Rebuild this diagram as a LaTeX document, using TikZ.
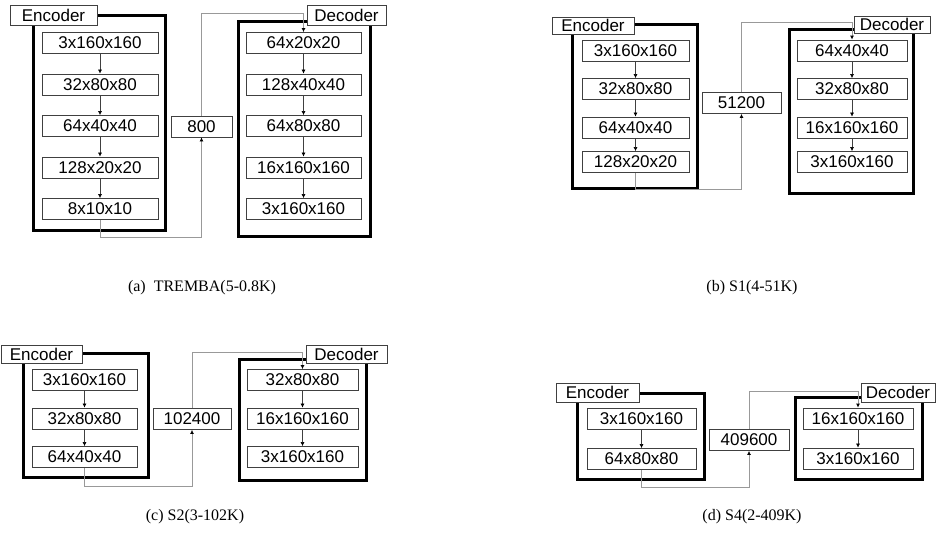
\documentclass[tikz,border=0pt]{standalone}
\usepackage{fontspec}
\setmainfont{Liberation Serif}
\newfontfamily\boxfont{Liberation Sans}
\usepackage{tikz}
\usetikzlibrary{arrows.meta}
\definecolor{boxline}{gray}{0.25}
\definecolor{linkline}{gray}{0.6}

\begin{document}
\begin{tikzpicture}[x=1pt, y=-1pt,
    thickframe/.style={black, line width=3pt},
    shapebox/.style={draw=boxline, line width=0.8pt, fill=white, inner sep=0pt,
        minimum height=21pt, font=\boxfont\fontsize{17}{17}\selectfont},
    tagbox/.style={shapebox, minimum height=19pt},
    flow/.style={boxline, line width=0.6pt, -{Latex[length=4pt, width=4pt, black]}},
    link/.style={linkline, line width=0.8pt, -{Latex[length=4pt, width=4pt, black]}},
    subcap/.style={font=\fontsize{16}{16}\selectfont}]
    \useasboundingbox (0,0) rectangle (936,542);

    % (a) TREMBA: 5 encoder / 5 decoder layers
    \draw[thickframe] (33,15) rectangle (165,230);
    \draw[thickframe] (238,21) rectangle (370,236);
    \node[shapebox, minimum width=116pt] (ae1) at (100,43) {3x160x160};
    \node[shapebox, minimum width=116pt] (ae2) at (100,84.5) {32x80x80};
    \node[shapebox, minimum width=116pt] (ae3) at (100,126) {64x40x40};
    \node[shapebox, minimum width=116pt] (ae4) at (100,167.5) {128x20x20};
    \node[shapebox, minimum width=116pt] (ae5) at (100,209) {8x10x10};
    \node[shapebox, minimum width=61pt] (az) at (201.5,126.5) {800};
    \node[shapebox, minimum width=115pt] (ad1) at (303.5,43) {64x20x20};
    \node[shapebox, minimum width=115pt] (ad2) at (303.5,84.5) {128x40x40};
    \node[shapebox, minimum width=115pt] (ad3) at (303.5,126) {64x80x80};
    \node[shapebox, minimum width=115pt] (ad4) at (303.5,167.5) {16x160x160};
    \node[shapebox, minimum width=115pt] (ad5) at (303.5,209) {3x160x160};
    \draw[flow] (ae1) -- (ae2);
    \draw[flow] (ae2) -- (ae3);
    \draw[flow] (ae3) -- (ae4);
    \draw[flow] (ae4) -- (ae5);
    \draw[flow] (ad1) -- (ad2);
    \draw[flow] (ad2) -- (ad3);
    \draw[flow] (ad3) -- (ad4);
    \draw[flow] (ad4) -- (ad5);
    \draw[link] (ae5.south) -- ++(0,17.5) -| (az.south);
    \draw[link] (az.north) -- ++(0,-102) -| (ad1.north);
    \node[tagbox, minimum width=87pt, minimum height=20pt] (aenc) at (53.5,15) {Encoder};
    \node[tagbox, minimum width=79pt, minimum height=20pt] (adec) at (346.5,15) {Decoder};
    \node[subcap] (acap) at (202,288) {(a)\ \ TREMBA(5-0.8K)};

    % (b) S1: 4 layers
    \draw[thickframe] (572,24) rectangle (697,188);
    \draw[thickframe] (789,29) rectangle (913,193);
    \node[shapebox, minimum width=107pt] (be1) at (635.5,50.5) {3x160x160};
    \node[shapebox, minimum width=107pt] (be2) at (635.5,89) {32x80x80};
    \node[shapebox, minimum width=107pt] (be3) at (635.5,127.5) {64x40x40};
    \node[shapebox, minimum width=107pt] (be4) at (635.5,162) {128x20x20};
    \node[shapebox, minimum width=79pt] (bz) at (741.5,103) {51200};
    \node[shapebox, minimum width=110pt] (bd1) at (852,50.5) {64x40x40};
    \node[shapebox, minimum width=110pt] (bd2) at (852,89) {32x80x80};
    \node[shapebox, minimum width=110pt] (bd3) at (852,127.5) {16x160x160};
    \node[shapebox, minimum width=110pt] (bd4) at (852,162) {3x160x160};
    \draw[flow] (be1) -- (be2);
    \draw[flow] (be2) -- (be3);
    \draw[flow] (be3) -- (be4);
    \draw[flow] (bd1) -- (bd2);
    \draw[flow] (bd2) -- (bd3);
    \draw[flow] (bd3) -- (bd4);
    \draw[link] (be4.south) -- ++(0,16.5) -| (bz.south);
    \draw[link] (bz.north) -- ++(0,-69.5) -| (bd1.north);
    \node[tagbox, minimum width=82pt, minimum height=17pt] (benc) at (593,25.5) {Encoder};
    \node[tagbox, minimum width=76pt, minimum height=17pt] (bdec) at (892,24.5) {Decoder};
    \node[subcap] (bcap) at (752,288) {(b) S1(4-51K)};

    % (c) S2: 3 layers
    \draw[thickframe] (23,353) rectangle (148,477);
    \draw[thickframe] (239,359) rectangle (366,480);
    \node[shapebox, minimum width=105pt] (ce1) at (84.5,380) {3x160x160};
    \node[shapebox, minimum width=105pt] (ce2) at (84.5,418.5) {32x80x80};
    \node[shapebox, minimum width=105pt] (ce3) at (84.5,457) {64x40x40};
    \node[shapebox, minimum width=78pt] (cz) at (192,419) {102400};
    \node[shapebox, minimum width=111pt] (cd1) at (302.5,380) {32x80x80};
    \node[shapebox, minimum width=111pt] (cd2) at (302.5,418.5) {16x160x160};
    \node[shapebox, minimum width=111pt] (cd3) at (302.5,457) {3x160x160};
    \draw[flow] (ce1) -- (ce2);
    \draw[flow] (ce2) -- (ce3);
    \draw[flow] (cd1) -- (cd2);
    \draw[flow] (cd2) -- (cd3);
    \draw[link] (ce3.south) -- ++(0,18.5) -| (cz.south);
    \draw[link] (cz.north) -- ++(0,-55.5) -| (cd1.north);
    \node[tagbox, minimum width=81pt, minimum height=18pt] (cenc) at (41.5,354) {Encoder};
    \node[tagbox, minimum width=81pt, minimum height=18pt] (cdec) at (346.5,354) {Decoder};
    \node[subcap] (ccap) at (195,517) {(c) S2(3-102K)};

    % (d) S4: 2 layers
    \draw[thickframe] (577,393) rectangle (704,479);
    \draw[thickframe] (795,397) rectangle (922,479);
    \node[shapebox, minimum width=109pt] (de1) at (641.5,418.5) {3x160x160};
    \node[shapebox, minimum width=109pt] (de2) at (641.5,459) {64x80x80};
    \node[shapebox, minimum width=80pt] (dz) at (749,440) {409600};
    \node[shapebox, minimum width=110pt] (dd1) at (858,418.5) {16x160x160};
    \node[shapebox, minimum width=110pt] (dd2) at (858,458.5) {3x160x160};
    \draw[flow] (de1) -- (de2);
    \draw[flow] (dd1) -- (dd2);
    \draw[link] (de2.south) -- ++(0,17.5) -| (dz.south);
    \draw[link] (dz.north) -- ++(0,-37.5) -| (dd1.north);
    \node[tagbox, minimum width=83pt] (denc) at (597.5,392.5) {Encoder};
    \node[tagbox, minimum width=74pt] (ddec) at (898,392.5) {Decoder};
    \node[subcap] (dcap) at (752,517) {(d) S4(2-409K)};
\end{tikzpicture}
\end{document}
